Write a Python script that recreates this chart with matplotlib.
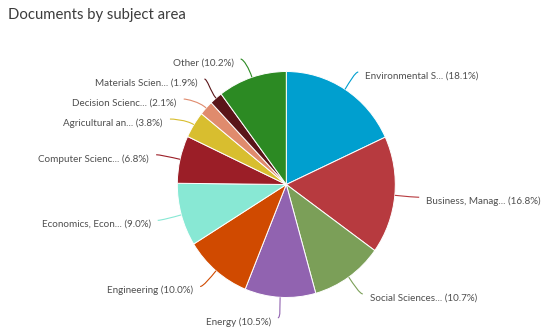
import numpy as np
import matplotlib
matplotlib.use("Agg")
import matplotlib.pyplot as plt
from matplotlib.path import Path
from matplotlib.patches import PathPatch

# Subject areas, clockwise from 12 o'clock
labels = [
    "Environmental S...", "Business, Manag...", "Social Sciences...", "Energy",
    "Engineering", "Economics, Econ...", "Computer Scienc...", "Agricultural an...",
    "Decision Scienc...", "Materials Scien...", "Other",
]
shares = [18.1, 16.8, 10.7, 10.5, 10.0, 9.0, 6.8, 3.8, 2.1, 1.9, 10.2]
colors = [
    "#009fcf", "#b73a3f", "#7b9f58", "#9163b0", "#d04a00", "#88e8d4",
    "#9b1e27", "#d8be2f", "#e08b6d", "#5a1519", "#2c8a23",
]

W, H, DPI = 542, 334, 100
cx, cy = 286.3, 184.5          # pie centre in pixels (from top-left)
sx, sy = 109.0, 113.0          # pixels per unit radius, horizontally / vertically
R_lab = 133.5                  # radius of the connector-end ring, pixels

fig = plt.figure(figsize=(W / DPI, H / DPI), dpi=DPI)
fig.patch.set_facecolor("white")
ax = fig.add_axes([0, 0, 1, 1])
ax.pie(shares, colors=colors, startangle=90, counterclock=False, radius=1.0,
       center=(0, 0), wedgeprops=dict(edgecolor="white", linewidth=0.7))
ax.set_aspect("auto")
ax.set_xlim(-cx / sx, (W - cx) / sx)
ax.set_ylim(-(H - cy) / sy, cy / sy)
ax.axis("off")

font = ["Lato", "DejaVu Sans"]
text_color = "#4f4f4f"

fig.text(8 / W, 1 - 15.5 / H, "Documents by subject area", fontsize=10.7,
         color="#3c3c3c", family=font, ha="left", va="center")

# connector ends, spread apart where neighbouring labels would collide
total = sum(shares)
cum = np.cumsum([0] + shares[:-1])
mid = [(c + s / 2) / total * 2 * np.pi for c, s in zip(cum, shares)]  # clockwise from top
natural_y = np.array([cy - R_lab * np.cos(a) for a in mid])


def spread(idx, gap):
    idx = sorted(idx, key=lambda i: natural_y[i])
    groups = [[i] for i in idx]
    changed = True
    while changed:
        changed = False
        for g in range(len(groups) - 1):
            a, b = groups[g], groups[g + 1]
            ya = np.mean(natural_y[a]) + gap * (len(a) - 1) / 2
            yb = np.mean(natural_y[b]) - gap * (len(b) - 1) / 2
            if yb - ya < gap:
                groups[g] = a + b
                del groups[g + 1]
                changed = True
                break
    out = {}
    for g in groups:
        m = np.mean(natural_y[g]) + (2 if len(g) > 1 else 0)
        for k, i in enumerate(g):
            out[i] = m + gap * (k - (len(g) - 1) / 2)
    return out


right = [i for i, a in enumerate(mid) if a < np.pi]
left = [i for i, a in enumerate(mid) if a >= np.pi]
ys = {}
ys.update(spread(right, 20))
ys.update(spread(left, 20))


def to_data(px, py):
    return (px - cx) / sx, (cy - py) / sy


for i, a in enumerate(mid):
    side = 1 if a < np.pi else -1
    ey = ys[i]
    dy = np.clip(ey - cy, -0.998 * R_lab, 0.998 * R_lab)
    ex = cx + side * np.sqrt(R_lab ** 2 - dy ** 2)
    ux, uy = np.sin(a), -np.cos(a)
    touch = (cx + sx * ux, cy + sy * uy)
    c1 = (cx + 1.08 * sx * ux, cy + 1.08 * sy * uy)
    c2 = (ex - side * 3, ey)
    pts = [to_data(*p) for p in [touch, c1, c2, (ex, ey)]]
    path = Path(pts, [Path.MOVETO, Path.CURVE4, Path.CURVE4, Path.CURVE4])
    ax.add_patch(PathPatch(path, facecolor="none", edgecolor=colors[i], lw=0.8))
    tx, ty = to_data(ex + side * 7, ey + 4)
    ax.text(tx, ty, f"{labels[i]} ({shares[i]:.1f}%)", fontsize=7.1, color=text_color,
            family=font, ha="left" if side > 0 else "right", va="center")

fig.savefig("out.png", dpi=DPI, facecolor="white")
